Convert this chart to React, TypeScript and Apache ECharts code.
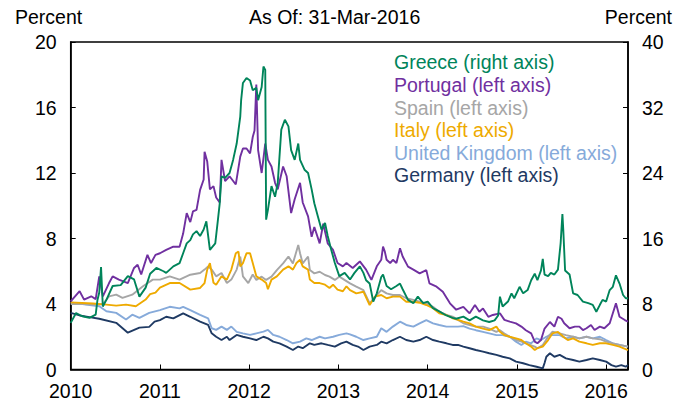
import React, { useEffect, useRef } from "react";
import * as echarts from "echarts";

const FONT = "'Liberation Sans', Arial, Helvetica, sans-serif";

const xTicks = [2010, 2011, 2012, 2013, 2014, 2015, 2016];
const xEnd = 2016.245; // 31-Mar-2016

// Greece (right axis, percent)
const greece: [number, number][] = [
  [2010.0, 5.7], [2010.06, 6.9], [2010.13, 6.5], [2010.21, 6.3], [2010.28, 6.7], [2010.3, 8.5], [2010.32, 9.4], [2010.34, 12.5], [2010.36, 7.7], [2010.4, 8.5], [2010.47, 10.2], [2010.56, 10.3], [2010.64, 11.4], [2010.71, 11.0], [2010.77, 8.9], [2010.84, 10.0], [2010.89, 11.7], [2010.96, 12.4],
  [2011.04, 12.0], [2011.07, 11.8], [2011.15, 12.6], [2011.22, 13.0], [2011.26, 14.2], [2011.3, 15.4], [2011.34, 15.8], [2011.37, 16.5], [2011.41, 16.9], [2011.45, 16.3], [2011.49, 17.1], [2011.52, 18.1], [2011.56, 14.6], [2011.62, 15.4], [2011.65, 18.3], [2011.67, 20.3], [2011.69, 23.6], [2011.73, 23.4], [2011.78, 24.0], [2011.82, 25.6], [2011.86, 27.6], [2011.9, 30.9], [2011.91, 32.9], [2011.93, 35.0], [2011.97, 35.6],
  [2012.01, 35.3], [2012.04, 34.1], [2012.08, 34.4], [2012.1, 32.9], [2012.14, 34.5], [2012.16, 37.0], [2012.18, 36.6], [2012.19, 18.3], [2012.21, 19.5], [2012.25, 22.4], [2012.29, 21.1], [2012.32, 22.8], [2012.36, 29.3], [2012.4, 30.5], [2012.44, 29.7], [2012.47, 26.8], [2012.51, 25.6], [2012.55, 27.6], [2012.57, 25.6], [2012.62, 24.4], [2012.66, 24.0], [2012.7, 22.0], [2012.73, 20.3], [2012.77, 18.7], [2012.81, 17.1], [2012.85, 17.9], [2012.88, 16.3], [2012.92, 14.6], [2012.96, 13.0],
  [2013.01, 11.4], [2013.07, 11.8], [2013.13, 11.0], [2013.18, 11.8], [2013.24, 12.6], [2013.28, 11.8], [2013.31, 10.9], [2013.35, 10.5], [2013.39, 8.3], [2013.43, 9.3], [2013.48, 11.3], [2013.5, 11.6], [2013.54, 10.2], [2013.59, 9.8], [2013.65, 10.2], [2013.69, 10.5], [2013.72, 9.8], [2013.78, 8.5], [2013.84, 8.1], [2013.89, 8.9], [2013.95, 8.1],
  [2014.0, 8.3], [2014.06, 7.5], [2014.13, 7.1], [2014.21, 6.6], [2014.28, 6.3], [2014.32, 6.2], [2014.4, 6.45], [2014.47, 6.0], [2014.54, 6.45], [2014.62, 6.0], [2014.69, 5.8], [2014.75, 6.0], [2014.79, 6.6], [2014.81, 8.9], [2014.84, 7.7], [2014.9, 8.3], [2014.94, 9.3], [2014.97, 8.7],
  [2015.03, 10.1], [2015.07, 9.3], [2015.12, 9.7], [2015.16, 10.9], [2015.2, 11.7], [2015.23, 10.9], [2015.27, 12.1], [2015.29, 13.5], [2015.31, 11.6], [2015.35, 11.4], [2015.38, 11.8], [2015.42, 11.6], [2015.46, 12.2], [2015.49, 15.4], [2015.51, 19.0], [2015.52, 17.0], [2015.54, 12.1], [2015.59, 11.6], [2015.63, 9.3], [2015.68, 9.1], [2015.74, 8.3], [2015.8, 8.1], [2015.85, 7.9], [2015.89, 7.05], [2015.93, 7.9], [2015.96, 8.5],
  [2016.0, 8.3], [2016.04, 9.7], [2016.075, 10.1], [2016.11, 11.5], [2016.15, 10.5], [2016.19, 9.1], [2016.22, 8.7], [2016.245, 8.7],
];

// Portugal (left axis)
const portugal: [number, number][] = [
  [2010.0, 4.16], [2010.1, 4.78], [2010.15, 4.27], [2010.23, 4.47], [2010.28, 4.3], [2010.32, 5.69], [2010.36, 4.47], [2010.43, 5.28], [2010.47, 5.69], [2010.54, 5.49], [2010.64, 5.28], [2010.71, 6.2], [2010.75, 6.4], [2010.79, 5.8], [2010.86, 7.0], [2010.9, 6.5], [2010.95, 7.0],
  [2011.0, 7.1], [2011.07, 7.3], [2011.15, 7.5], [2011.22, 7.5], [2011.26, 8.3], [2011.3, 9.55], [2011.34, 9.0], [2011.37, 9.65], [2011.41, 9.75], [2011.45, 10.97], [2011.49, 11.6], [2011.5, 13.3], [2011.53, 12.7], [2011.56, 11.0], [2011.6, 11.2], [2011.63, 10.5], [2011.67, 10.2], [2011.69, 12.8], [2011.73, 11.5], [2011.78, 11.8], [2011.85, 11.3], [2011.9, 13.0], [2011.93, 13.5], [2011.97, 13.5],
  [2012.01, 13.2], [2012.04, 14.2], [2012.06, 14.6], [2012.08, 17.4], [2012.1, 13.4], [2012.14, 12.0], [2012.18, 13.8], [2012.21, 12.8], [2012.25, 12.4], [2012.29, 11.4], [2012.32, 11.0], [2012.38, 12.4], [2012.42, 11.8], [2012.47, 9.55], [2012.51, 10.4], [2012.57, 11.4], [2012.6, 10.2], [2012.66, 9.35], [2012.7, 8.1], [2012.73, 8.7], [2012.79, 7.7], [2012.83, 8.9], [2012.88, 7.7], [2012.94, 7.3], [2012.99, 6.5],
  [2013.05, 6.3], [2013.09, 6.5], [2013.16, 6.2], [2013.24, 6.6], [2013.31, 6.1], [2013.37, 5.47], [2013.43, 6.3], [2013.48, 6.7], [2013.5, 7.5], [2013.52, 7.2], [2013.54, 6.7], [2013.58, 6.5], [2013.61, 6.7], [2013.65, 6.5], [2013.69, 7.4], [2013.72, 6.9], [2013.78, 6.28], [2013.84, 6.1], [2013.91, 5.87], [2013.985, 6.07],
  [2014.02, 5.26], [2014.1, 5.06], [2014.17, 4.75], [2014.25, 4.04], [2014.32, 3.65], [2014.4, 3.83], [2014.47, 3.43], [2014.53, 3.94], [2014.58, 3.53], [2014.62, 3.73], [2014.68, 3.22], [2014.73, 3.33], [2014.81, 3.43], [2014.86, 3.03], [2014.92, 2.92], [2014.99, 2.82],
  [2015.05, 2.62], [2015.1, 2.4], [2015.16, 2.21], [2015.2, 1.7], [2015.23, 1.6], [2015.27, 1.8], [2015.31, 2.5], [2015.37, 2.9], [2015.42, 2.62], [2015.46, 3.22], [2015.5, 3.1], [2015.53, 2.82], [2015.59, 2.52], [2015.65, 2.62], [2015.7, 2.62], [2015.74, 2.41], [2015.78, 2.52], [2015.83, 2.72], [2015.87, 2.41], [2015.93, 2.62], [2015.98, 2.52],
  [2016.04, 2.82], [2016.075, 3.43], [2016.11, 4.04], [2016.15, 3.22], [2016.21, 3.02], [2016.245, 2.92],
];

// Spain (left axis)
const spain: [number, number][] = [
  [2010.0, 4.0], [2010.15, 4.0], [2010.3, 3.95], [2010.36, 4.0], [2010.43, 4.47], [2010.51, 4.57], [2010.58, 4.37], [2010.69, 4.57], [2010.81, 5.08], [2010.92, 5.49],
  [2011.0, 5.49], [2011.11, 5.69], [2011.22, 5.49], [2011.34, 5.79], [2011.45, 5.89], [2011.5, 6.1], [2011.54, 6.3], [2011.58, 6.1], [2011.63, 5.69], [2011.69, 5.89], [2011.75, 5.28], [2011.8, 5.49], [2011.86, 6.1], [2011.9, 6.9], [2011.93, 5.69], [2011.99, 5.28],
  [2012.04, 5.8], [2012.08, 5.47], [2012.14, 5.67], [2012.19, 5.47], [2012.25, 5.67], [2012.31, 6.07], [2012.38, 6.48], [2012.44, 6.9], [2012.49, 6.48], [2012.55, 7.6], [2012.57, 7.1], [2012.6, 6.48], [2012.66, 6.9], [2012.68, 6.07], [2012.73, 5.87], [2012.79, 5.97], [2012.85, 5.77], [2012.9, 5.67], [2012.96, 5.47],
  [2013.01, 5.67], [2013.13, 5.26], [2013.2, 5.06], [2013.28, 4.85], [2013.35, 4.04], [2013.43, 4.55], [2013.48, 4.85], [2013.54, 4.65], [2013.61, 4.55], [2013.69, 4.55], [2013.76, 4.35], [2013.84, 4.25], [2013.91, 4.14], [2013.985, 4.04],
  [2014.06, 3.83], [2014.13, 3.53], [2014.21, 3.33], [2014.28, 3.23], [2014.34, 3.03], [2014.4, 2.82], [2014.47, 2.72], [2014.54, 2.62], [2014.62, 2.62], [2014.69, 2.5], [2014.77, 2.3], [2014.81, 2.4], [2014.86, 2.2], [2014.92, 2.0], [2014.99, 1.8],
  [2015.05, 1.7], [2015.1, 1.6], [2015.2, 1.4], [2015.23, 1.3], [2015.29, 1.5], [2015.35, 2.0], [2015.4, 2.31], [2015.48, 2.2], [2015.55, 2.1], [2015.63, 2.0], [2015.7, 1.9], [2015.78, 2.0], [2015.85, 1.9], [2015.93, 1.85],
  [2016.0, 1.7], [2016.075, 1.6], [2016.15, 1.5], [2016.245, 1.4],
];

// Italy (left axis)
const italy: [number, number][] = [
  [2010.0, 4.1], [2010.25, 4.03], [2010.4, 3.96], [2010.51, 3.9], [2010.62, 3.96], [2010.73, 3.86], [2010.84, 4.27], [2010.89, 4.6], [2010.95, 4.7],
  [2011.0, 5.0], [2011.11, 5.28], [2011.22, 5.28], [2011.34, 4.88], [2011.45, 4.98], [2011.5, 5.28], [2011.53, 6.1], [2011.56, 6.5], [2011.6, 5.3], [2011.63, 5.18], [2011.69, 5.69], [2011.75, 5.49], [2011.8, 6.1], [2011.85, 7.1], [2011.88, 7.2], [2011.9, 6.3], [2011.93, 6.5], [2011.97, 7.1],
  [2012.01, 7.1], [2012.04, 6.5], [2012.08, 5.69], [2012.14, 5.49], [2012.19, 5.28], [2012.21, 4.9], [2012.25, 5.49], [2012.31, 5.69], [2012.38, 6.1], [2012.44, 6.3], [2012.49, 6.1], [2012.53, 6.5], [2012.57, 6.7], [2012.6, 6.3], [2012.66, 6.1], [2012.68, 5.49], [2012.73, 5.28], [2012.79, 5.28], [2012.85, 5.18], [2012.9, 4.98], [2012.94, 5.18], [2012.99, 4.88],
  [2013.05, 4.78], [2013.09, 5.08], [2013.13, 4.85], [2013.2, 4.65], [2013.28, 4.75], [2013.35, 3.94], [2013.41, 4.45], [2013.48, 4.55], [2013.54, 4.35], [2013.61, 4.45], [2013.69, 4.45], [2013.76, 4.14], [2013.84, 4.14], [2013.91, 4.08], [2013.985, 3.94],
  [2014.06, 3.74], [2014.13, 3.43], [2014.21, 3.33], [2014.28, 3.13], [2014.34, 3.03], [2014.4, 2.92], [2014.47, 2.82], [2014.54, 2.62], [2014.62, 2.5], [2014.69, 2.4], [2014.77, 2.62], [2014.81, 2.3], [2014.86, 2.1], [2014.92, 2.0], [2014.99, 1.9],
  [2015.05, 1.8], [2015.1, 1.6], [2015.16, 1.4], [2015.2, 1.19], [2015.23, 1.3], [2015.29, 1.4], [2015.35, 1.8], [2015.4, 2.21], [2015.46, 2.3], [2015.52, 2.0], [2015.57, 1.8], [2015.63, 1.9], [2015.7, 1.7], [2015.78, 1.6], [2015.85, 1.5], [2015.93, 1.6],
  [2016.0, 1.6], [2016.075, 1.5], [2016.15, 1.4], [2016.245, 1.19],
];

// United Kingdom (left axis)
const uk: [number, number][] = [
  [2010.0, 4.1], [2010.17, 3.96], [2010.32, 3.86], [2010.4, 3.56], [2010.51, 3.46], [2010.62, 3.05], [2010.69, 3.35], [2010.77, 3.15], [2010.88, 3.46],
  [2011.0, 3.63], [2011.11, 3.83], [2011.22, 3.73], [2011.26, 3.83], [2011.34, 3.63], [2011.45, 3.33], [2011.54, 3.12], [2011.58, 2.52], [2011.63, 2.42], [2011.69, 2.62], [2011.75, 2.42], [2011.8, 2.62], [2011.86, 2.3], [2011.93, 2.21],
  [2012.01, 2.11], [2012.08, 2.21], [2012.16, 2.31], [2012.21, 2.42], [2012.27, 2.11], [2012.34, 2.0], [2012.42, 1.8], [2012.49, 1.6], [2012.57, 1.7], [2012.64, 1.9], [2012.7, 1.8], [2012.79, 2.0], [2012.85, 1.9], [2012.94, 2.0],
  [2013.01, 2.11], [2013.09, 2.21], [2013.13, 2.15], [2013.2, 2.0], [2013.28, 1.8], [2013.35, 1.9], [2013.43, 2.0], [2013.48, 2.52], [2013.54, 2.3], [2013.61, 2.62], [2013.69, 2.92], [2013.76, 2.72], [2013.84, 2.62], [2013.91, 2.82], [2013.985, 3.02],
  [2014.06, 2.82], [2014.13, 2.72], [2014.21, 2.62], [2014.28, 2.62], [2014.34, 2.62], [2014.4, 2.65], [2014.47, 2.5], [2014.54, 2.4], [2014.62, 2.3], [2014.69, 2.21], [2014.77, 2.1], [2014.84, 2.1], [2014.92, 2.0], [2014.99, 1.7],
  [2015.05, 1.5], [2015.1, 1.7], [2015.16, 1.6], [2015.22, 1.9], [2015.27, 1.8], [2015.33, 2.0], [2015.37, 2.1], [2015.4, 2.1], [2015.48, 2.1], [2015.55, 1.9], [2015.63, 2.0], [2015.7, 1.9], [2015.78, 2.0], [2015.85, 1.9], [2015.93, 2.0],
  [2016.0, 1.8], [2016.075, 1.6], [2016.15, 1.5], [2016.245, 1.4],
];

// Germany (left axis)
const germany: [number, number][] = [
  [2010.0, 3.46], [2010.1, 3.3], [2010.21, 3.2], [2010.32, 3.1], [2010.51, 2.85], [2010.64, 2.25], [2010.77, 2.56], [2010.88, 2.6], [2010.94, 2.92],
  [2011.0, 3.02], [2011.07, 3.22], [2011.15, 3.12], [2011.26, 3.43], [2011.34, 3.22], [2011.45, 2.92], [2011.54, 2.72], [2011.58, 2.21], [2011.63, 2.0], [2011.69, 1.8], [2011.75, 2.0], [2011.78, 1.8], [2011.86, 2.11], [2011.93, 2.0],
  [2012.01, 1.9], [2012.08, 1.8], [2012.16, 2.0], [2012.21, 1.9], [2012.27, 1.7], [2012.34, 1.6], [2012.42, 1.4], [2012.49, 1.19], [2012.55, 1.4], [2012.6, 1.3], [2012.68, 1.6], [2012.73, 1.5], [2012.81, 1.6], [2012.88, 1.5], [2012.96, 1.4],
  [2013.03, 1.6], [2013.09, 1.7], [2013.16, 1.5], [2013.22, 1.4], [2013.28, 1.19], [2013.35, 1.4], [2013.43, 1.5], [2013.48, 1.7], [2013.54, 1.6], [2013.61, 1.8], [2013.69, 2.0], [2013.76, 1.8], [2013.84, 1.7], [2013.91, 1.8], [2013.985, 2.0],
  [2014.06, 1.8], [2014.13, 1.7], [2014.21, 1.6], [2014.28, 1.5], [2014.34, 1.5], [2014.4, 1.4], [2014.47, 1.3], [2014.54, 1.19], [2014.62, 1.09], [2014.69, 0.99], [2014.77, 0.89], [2014.84, 0.78], [2014.92, 0.68], [2014.99, 0.48],
  [2015.07, 0.38], [2015.14, 0.27], [2015.22, 0.17], [2015.29, 0.07], [2015.31, 0.4], [2015.33, 0.78], [2015.37, 0.99], [2015.42, 0.78], [2015.48, 0.89], [2015.55, 0.68], [2015.63, 0.58], [2015.7, 0.48], [2015.78, 0.58], [2015.85, 0.68], [2015.93, 0.58],
  [2016.0, 0.48], [2016.06, 0.27], [2016.11, 0.17], [2016.17, 0.27], [2016.22, 0.17], [2016.245, 0.27],
];

const legendNames = [
  "Greece (right axis)",
  "Portugal (left axis)",
  "Spain (left axis)",
  "Italy (left axis)",
  "United Kingdom (left axis)",
  "Germany (left axis)",
];
const colors = ["#00845A", "#7030A0", "#A6A6A6", "#EEAA00", "#86AADA", "#1F3A63"];

export default function App() {
  const ref = useRef<HTMLDivElement>(null);

  useEffect(() => {
    if (!ref.current) return;
    const chart = echarts.init(ref.current, null, { renderer: "svg" });
    const txt = { fontFamily: FONT, fontSize: 19.5, color: "#000", fontWeight: "normal" as const };
    const axisCommon = {
      type: "value" as const,
      axisLine: { show: true, onZero: false, lineStyle: { color: "#000", width: 1.5 } },
      axisTick: { show: true, inside: true, length: 5, lineStyle: { color: "#000", width: 1 } },
      splitLine: { show: false },
      axisLabel: { ...txt, margin: 14 },
    };
    const seriesList = [
      { data: germany, idx: 5, axis: 0 },
      { data: uk, idx: 4, axis: 0 },
      { data: spain, idx: 2, axis: 0 },
      { data: italy, idx: 3, axis: 0 },
      { data: portugal, idx: 1, axis: 0 },
      { data: greece, idx: 0, axis: 1 },
    ].map((s) => ({
      name: legendNames[s.idx],
      type: "line",
      yAxisIndex: s.axis,
      data: s.data,
      showSymbol: false,
      symbol: "none",
      lineStyle: { color: colors[s.idx], width: 1.9 },
      itemStyle: { color: colors[s.idx] },
      z: 2,
    }));

    chart.setOption({
      animation: false,
      backgroundColor: "#fff",
      title: [
        { text: "Percent", left: 15, top: 7, padding: 0, textStyle: txt },
        { text: "As Of: 31-Mar-2016", left: 249, top: 7, padding: 0, textStyle: txt },
        { text: "Percent", right: 10, top: 7, padding: 0, textStyle: txt },
      ],
      legend: {
        orient: "vertical",
        left: 389,
        top: 51,
        padding: 0,
        icon: "none",
        itemWidth: 0,
        itemHeight: 10,
        itemGap: 0,
        selectedMode: false,
        textStyle: { fontFamily: FONT, fontSize: 19.5, lineHeight: 22.6 },
        data: legendNames.map((n, i) => ({ name: n, textStyle: { color: colors[i] } })),
      },
      grid: {
        left: 70.7,
        right: 54,
        top: 42,
        bottom: 34.5,
        show: true,
        borderColor: "#000",
        borderWidth: 1.5,
      },
      xAxis: {
        ...axisCommon,
        min: xTicks[0],
        max: xEnd,
        interval: 1,
        axisLabel: {
          ...txt,
          margin: 11,
          formatter: (v: number) => (xTicks.includes(v) ? String(v) : ""),
        },
      },
      yAxis: [
        { ...axisCommon, position: "left", min: 0, max: 20, interval: 4 },
        { ...axisCommon, position: "right", min: 0, max: 40, interval: 8 },
      ],
      series: seriesList,
    });
    return () => chart.dispose();
  }, []);

  return (
    <div
      ref={ref}
      style={{ position: "absolute", left: 0, top: 0, width: 682, height: 404 }}
    />
  );
}
